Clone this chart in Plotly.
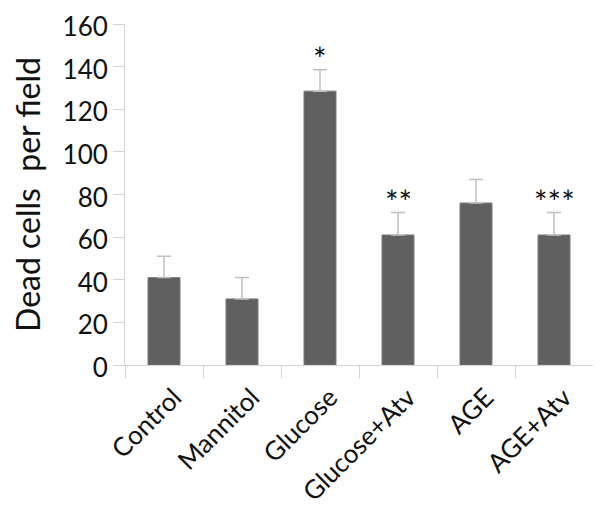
import plotly.graph_objects as go

groups = ["Control", "Mannitol", "Glucose", "Glucose+Atv", "AGE", "AGE+Atv"]
dead_cells = [41, 31, 128.5, 61, 76, 61]
errors = [10, 10, 10, 10.5, 11, 10.5]
marks = ["", "", "*", "**", "", "***"]
y_ticks = [0, 20, 40, 60, 80, 100, 120, 140, 160]

FONT = "Lato, Open Sans, sans-serif"
AXIS_GREY = "#d4d4d4"

fig = go.Figure()
fig.add_trace(go.Bar(
    x=groups,
    y=dead_cells,
    marker=dict(color="#606060", line=dict(color="#7a7a7a", width=1)),
    error_y=dict(
        type="data",
        array=errors,
        arrayminus=[0] * len(errors),
        symmetric=False,
        color="#c0c0c0",
        thickness=1.5,
        width=7,
    ),
))

for g, v, e, m in zip(groups, dead_cells, errors, marks):
    if m:
        fig.add_annotation(
            x=g, y=v + e, text=m, showarrow=False,
            yanchor="bottom", yshift=-10,
            font=dict(family=FONT, size=32, color="#111111"),
        )

# page body has an 8px margin, so the figure is offset by (8, 8)
fig.update_layout(
    width=593,
    height=502,
    margin=dict(l=117, r=8, t=16, b=145),
    paper_bgcolor="white",
    plot_bgcolor="white",
    bargap=0.59,
    showlegend=False,
    font=dict(family=FONT, color="#111111"),
)
fig.update_xaxes(
    automargin=False,
    showline=True, linecolor=AXIS_GREY, linewidth=1,
    ticks="outside", tickson="boundaries", ticklen=12, tickcolor=AXIS_GREY,
    tickangle=-45, tickfont=dict(size=26),
    ticklabelshift=10, ticklabelstandoff=6,
    showgrid=False,
)
fig.update_yaxes(
    automargin=False,
    range=[0, 160], tickvals=y_ticks,
    showline=True, linecolor=AXIS_GREY, linewidth=1,
    ticks="outside", ticklen=11, tickcolor=AXIS_GREY,
    tickfont=dict(size=26), ticklabeloverflow="allow", ticklabelshift=3,
    showgrid=False, zeroline=False,
    title=dict(text="Dead cells  per field", font=dict(size=32), standoff=14),
)

fig.write_html("out.html")
